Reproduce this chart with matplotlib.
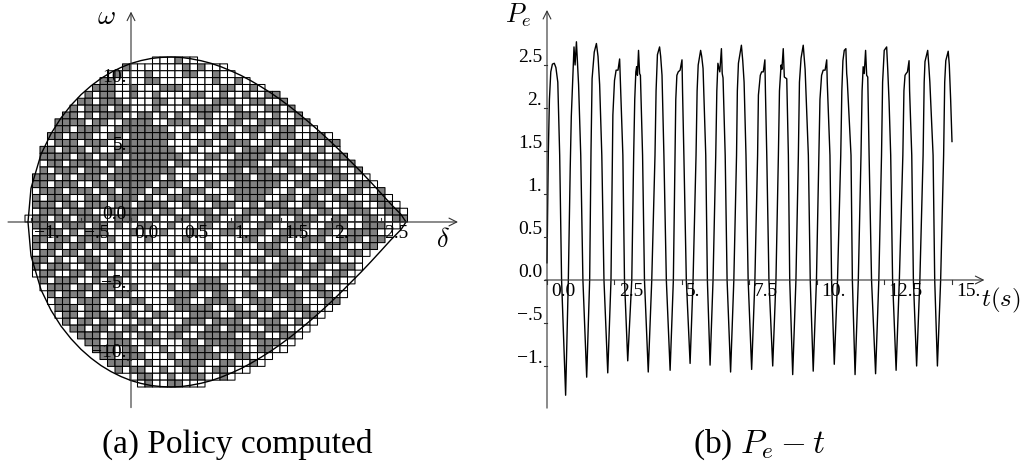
import matplotlib
matplotlib.use('Agg')
import matplotlib.pyplot as plt
from matplotlib.patches import Rectangle
from matplotlib.collections import PatchCollection

plt.rcParams['mathtext.fontset'] = 'cm'
plt.rcParams['font.family'] = ['Liberation Serif', 'DejaVu Serif']

# ---------------- (a) policy grid ----------------
delta0 = -1.06      # left edge of the grid
cell_w = 0.075
omega0 = 12.0       # top edge of the grid
cell_h = 0.5

# first / last column of every row (top row first)
row_left = [17, 13, 11, 10, 9, 8, 7, 6, 5, 4, 4, 3, 3, 2, 2, 2, 2, 1, 1, 1, 1, 1, 1, 0,
            1, 1, 1, 1, 1, 1, 1, 1, 2, 2, 3, 3, 4, 4, 5, 6, 7, 8, 9, 10, 11, 12, 14, 15]
row_right = [22, 26, 27, 29, 31, 33, 34, 35, 36, 37, 38, 40, 41, 41, 42, 43, 44, 45, 46, 47, 48, 49, 50, 50,
             49, 48, 47, 46, 45, 44, 44, 43, 43, 42, 42, 41, 40, 39, 38, 37, 36, 35, 34, 32, 31, 29, 27, 23]

# runs of grey cells in every row
gray_runs = [
    [(20, 20)],
    [(13, 13), (21, 21), (23, 23)],
    [(12, 12), (16, 16), (21, 22), (25, 25)],
    [(10, 11), (16, 17), (25, 25), (28, 28)],
    [(9, 11), (14, 14), (18, 20), (26, 27), (30, 30)],
    [(8, 8), (10, 11), (14, 14), (17, 17), (22, 23), (26, 26), (29, 29), (32, 33)],
    [(7, 8), (10, 12), (17, 18), (21, 21), (25, 27), (30, 31), (34, 34)],
    [(6, 6), (8, 10), (12, 13), (17, 17), (22, 25), (28, 28), (32, 33), (35, 35)],
    [(5, 6), (8, 8), (10, 12), (15, 16), (18, 18), (20, 20), (23, 24), (28, 30), (33, 33), (36, 36)],
    [(4, 7), (9, 10), (13, 16), (19, 21), (24, 24), (27, 28), (31, 33), (36, 37)],
    [(4, 5), (7, 9), (12, 18), (22, 23), (26, 26), (29, 31), (34, 35)],
    [(3, 4), (6, 8), (11, 12), (14, 19), (21, 21), (25, 27), (30, 30), (33, 35), (38, 39)],
    [(4, 6), (8, 10), (13, 18), (23, 24), (27, 29), (32, 33), (36, 37), (40, 41)],
    [(2, 3), (5, 7), (9, 9), (12, 19), (22, 22), (26, 27), (29, 32), (35, 36), (39, 39)],
    [(2, 5), (7, 8), (10, 12), (14, 20), (24, 25), (28, 31), (34, 34), (37, 38), (41, 42)],
    [(3, 4), (6, 9), (11, 11), (13, 18), (20, 21), (27, 30), (33, 35), (38, 40), (43, 43)],
    [(2, 2), (4, 6), (8, 10), (12, 19), (23, 24), (27, 28), (30, 32), (35, 36), (39, 41), (44, 44)],
    [(1, 3), (5, 5), (7, 9), (11, 17), (19, 19), (22, 22), (26, 29), (31, 34), (37, 38), (41, 42)],
    [(1, 2), (4, 6), (9, 10), (12, 16), (18, 20), (24, 25), (28, 33), (36, 37), (40, 41), (44, 45)],
    [(2, 4), (6, 8), (10, 11), (13, 15), (17, 18), (21, 23), (27, 32), (35, 35), (38, 40), (43, 44), (47, 47)],
    [(1, 1), (3, 5), (8, 9), (11, 14), (16, 16), (19, 21), (24, 25), (28, 31), (34, 35), (37, 38), (41, 42), (46, 47)],
    [(1, 3), (5, 6), (8, 10), (12, 13), (15, 18), (21, 22), (25, 27), (30, 30), (32, 34), (37, 39), (42, 44), (47, 48)],
    [(2, 4), (6, 8), (11, 11), (13, 16), (18, 19), (22, 24), (26, 26), (29, 31), (34, 36), (39, 40), (43, 45), (48, 49)],
    [(1, 2), (4, 5), (7, 9), (12, 14), (17, 17), (20, 21), (24, 25), (28, 29), (32, 33), (36, 38), (41, 42), (45, 46), (49, 50)],
    [(1, 3), (5, 7), (9, 10), (12, 12), (15, 16), (19, 19), (23, 24), (27, 28), (31, 32), (35, 37), (40, 42), (45, 47)],
    [(2, 4), (6, 6), (8, 10), (14, 14), (18, 18), (22, 22), (26, 27), (30, 31), (34, 36), (39, 40), (43, 46)],
    [(1, 2), (4, 5), (7, 9), (11, 11), (16, 16), (21, 21), (29, 30), (33, 34), (37, 39), (42, 44), (46, 47)],
    [(1, 1), (3, 4), (6, 7), (9, 10), (13, 13), (24, 24), (31, 33), (36, 37), (40, 42), (45, 46)],
    [(2, 3), (5, 6), (8, 8), (11, 12), (19, 19), (28, 28), (32, 34), (38, 40), (43, 44)],
    [(1, 2), (4, 4), (7, 9), (12, 12), (22, 22), (30, 31), (34, 36), (39, 41)],
    [(1, 1), (3, 5), (8, 9), (11, 11), (17, 17), (26, 26), (33, 36), (38, 39), (42, 43)],
    [(2, 3), (6, 7), (9, 10), (13, 13), (20, 21), (29, 29), (31, 34), (37, 38), (41, 42)],
    [(2, 2), (4, 6), (9, 9), (11, 12), (23, 25), (30, 33), (36, 37), (40, 41)],
    [(3, 5), (7, 8), (10, 11), (14, 14), (19, 19), (22, 26), (31, 35), (38, 39)],
    [(3, 3), (5, 7), (9, 10), (12, 13), (20, 22), (25, 26), (29, 30), (33, 36), (39, 40)],
    [(4, 5), (7, 9), (11, 11), (14, 15), (19, 21), (24, 27), (30, 32), (35, 36), (40, 41)],
    [(4, 6), (8, 9), (12, 13), (16, 16), (20, 24), (27, 28), (31, 32), (35, 37)],
    [(5, 6), (8, 10), (13, 14), (17, 18), (22, 25), (28, 30), (33, 34), (37, 38)],
    [(5, 5), (7, 8), (10, 11), (15, 16), (21, 23), (25, 28), (31, 33), (36, 36)],
    [(6, 7), (9, 10), (13, 14), (17, 17), (20, 21), (24, 25), (27, 29), (32, 34)],
    [(7, 9), (11, 12), (15, 16), (19, 20), (23, 27), (30, 31), (34, 35)],
    [(8, 9), (11, 13), (16, 17), (21, 22), (24, 28), (31, 33)],
    [(9, 11), (13, 14), (18, 18), (21, 24), (26, 28), (31, 32)],
    [(10, 11), (13, 15), (19, 19), (22, 25), (28, 29)],
    [(11, 13), (16, 16), (20, 23), (26, 27), (30, 30)],
    [(12, 12), (14, 15), (18, 18), (21, 22), (25, 26)],
    [(15, 16), (19, 19), (22, 23), (26, 26)],
    [(16, 16), (19, 20)],
]

# boundary of the stability region (upper half, lower half is its mirror)
delta_curve = [-1.03, -1.0, -0.9, -0.8, -0.7, -0.6, -0.5, -0.4, -0.3, -0.2, -0.1, 0.0,
               0.1, 0.2, 0.3, 0.4, 0.5, 0.6, 0.7, 0.8, 0.9, 1.0, 1.1, 1.2, 1.3, 1.4,
               1.5, 1.6, 1.7, 1.8, 1.9, 2.0, 2.1, 2.2, 2.3, 2.4, 2.5, 2.6, 2.7, 2.75]
omega_curve = [0.0, 2.46, 4.92, 6.42, 7.57, 8.49, 9.26, 9.90, 10.44, 10.88, 11.24, 11.53,
               11.74, 11.89, 11.97, 12.0, 11.97, 11.87, 11.73, 11.54, 11.29, 10.99, 10.66, 10.27, 9.84, 9.38,
               8.87, 8.33, 7.74, 7.13, 6.49, 5.82, 5.11, 4.38, 3.65, 2.88, 2.09, 1.29, 0.55, 0.0]

delta_ticks = [-1.0, -0.5, 0.0, 0.5, 1.0, 1.5, 2.0, 2.5]
delta_labels = ['\u22121.', '\u2212.5', '0.0', '0.5', '1.', '1.5', '2.', '2.5']
omega_ticks = [10, 5, 0, -5, -10]
omega_labels = ['10.', '5.', '0.0', '\u22125.', '\u221210.']

# ---------------- (b) electric power ----------------
t_vals = [0.00, 0.05, 0.09, 0.14, 0.20, 0.27, 0.33, 0.40, 0.47, 0.54, 0.69,
          0.79, 0.86, 0.90, 0.95, 1.00, 1.04, 1.09, 1.17, 1.25, 1.33, 1.47,
          1.58, 1.63, 1.67, 1.75, 1.83, 1.89, 1.95, 2.03, 2.11, 2.25,
          2.37, 2.44, 2.50, 2.56, 2.63, 2.69, 2.74, 2.81, 2.87, 2.99,
          3.14, 3.21, 3.25, 3.29, 3.32, 3.35, 3.39, 3.43, 3.46, 3.54, 3.61, 3.75,
          3.88, 4.00, 4.04, 4.09, 4.17, 4.21, 4.26, 4.33, 4.42, 4.56,
          4.68, 4.74, 4.77, 4.81, 4.86, 4.93, 5.00, 5.02, 5.07, 5.16, 5.30,
          5.41, 5.52, 5.56, 5.60, 5.69, 5.73, 5.78, 5.88, 5.94, 6.04,
          6.15, 6.25, 6.29, 6.33, 6.40, 6.46, 6.49, 6.52, 6.60, 6.67, 6.80,
          6.92, 7.02, 7.05, 7.09, 7.20, 7.25, 7.30, 7.37, 7.45, 7.58,
          7.70, 7.80, 7.83, 7.90, 7.95, 8.01, 8.07, 8.09, 8.14, 8.22, 8.36,
          8.48, 8.57, 8.61, 8.67, 8.70, 8.75, 8.79, 8.88, 8.94, 8.99, 9.10,
          9.22, 9.31, 9.35, 9.41, 9.49, 9.56, 9.68, 9.75, 9.86,
          9.98, 10.07, 10.11, 10.17, 10.23, 10.30, 10.36, 10.38, 10.48, 10.54, 10.64,
          10.76, 10.88, 10.92, 10.96, 11.01, 11.07, 11.10, 11.12, 11.26, 11.31, 11.41,
          11.53, 11.63, 11.67, 11.71, 11.75, 11.80, 11.84, 11.88, 11.93, 12.02, 12.17,
          12.29, 12.39, 12.43, 12.49, 12.58, 12.62, 12.67, 12.73, 12.80, 12.93,
          13.05, 13.18, 13.22, 13.26, 13.30, 13.35, 13.41, 13.43, 13.51, 13.57, 13.69,
          13.81, 13.93, 13.97, 14.00, 14.10, 14.14, 14.18, 14.30, 14.36, 14.46,
          14.58, 14.69, 14.73, 14.77, 14.86, 14.90, 14.95, 15.00]
pe_vals = [0.20, 1.50, 2.10, 2.42, 2.51, 2.52, 2.47, 2.30, 1.45, 0.00, -1.34,
           0.00, 1.30, 1.90, 2.30, 2.71, 2.50, 2.77, 2.27, 1.45, 0.00, -1.13,
           0.00, 1.50, 2.34, 2.65, 2.75, 2.60, 2.27, 1.45, 0.00, -1.08,
           0.00, 1.92, 2.32, 2.44, 2.44, 2.57, 2.10, 1.45, 0.00, -0.94,
           0.00, 1.45, 2.10, 2.42, 2.48, 2.38, 2.67, 2.40, 2.38, 1.45, 0.00, -1.07,
           0.00, 1.45, 2.20, 2.62, 2.71, 2.60, 2.38, 1.45, 0.00, -1.05,
           0.00, 1.45, 2.10, 2.38, 2.42, 2.44, 2.56, 2.20, 1.45, 0.00, -0.97,
           0.00, 1.45, 2.20, 2.50, 2.67, 2.60, 2.46, 1.45, 0.00, -0.99,
           0.00, 1.45, 2.20, 2.52, 2.42, 2.69, 2.40, 2.35, 1.45, 0.00, -1.07,
           0.00, 1.45, 2.20, 2.52, 2.73, 2.55, 2.30, 1.45, 0.00, -1.04,
           0.00, 1.45, 2.15, 2.38, 2.42, 2.42, 2.56, 2.20, 1.45, 0.00, -1.00,
           0.00, 1.45, 2.20, 2.50, 2.45, 2.69, 2.36, 2.34, 1.45, 0.00, -1.10,
           0.00, 1.45, 2.30, 2.58, 2.73, 2.45, 1.45, 0.00, -1.06,
           0.00, 1.45, 2.10, 2.38, 2.44, 2.44, 2.56, 2.30, 1.45, 0.00, -0.98,
           0.00, 1.45, 2.20, 2.55, 2.67, 2.69, 2.40, 2.33, 1.45, 0.00, -1.10,
           0.00, 1.45, 2.20, 2.48, 2.40, 2.67, 2.38, 2.36, 1.45, 0.00, -1.09,
           0.00, 1.45, 2.30, 2.67, 2.71, 2.45, 2.07, 1.45, 0.00, -1.05,
           0.00, 1.45, 2.20, 2.38, 2.40, 2.42, 2.55, 2.20, 1.45, 0.00, -1.00,
           0.00, 1.45, 2.30, 2.54, 2.67, 2.50, 2.30, 1.45, 0.00, -1.00,
           0.00, 1.45, 2.30, 2.55, 2.66, 2.50, 2.10, 1.61]

t_ticks = [0.0, 2.5, 5.0, 7.5, 10.0, 12.5, 15.0]
t_labels = ['0.0', '2.5', '5.', '7.5', '10.', '12.5', '15.']
pe_ticks = [2.5, 2.0, 1.5, 1.0, 0.5, 0.0, -0.5, -1.0]
pe_labels = ['2.5', '2.', '1.5', '1.', '0.5', '0.0', '\u2212.5', '\u22121.']

W, H = 1023, 463
fig = plt.figure(figsize=(W / 100, H / 100), dpi=100)

# ---- left panel
ax1 = fig.add_axes([0, 0, 500 / W, 1])
ax1.set_xlim(-1.31, 3.69)
ax1.set_ylim(-17.527, 16.145)
ax1.axis('off')
px_x1 = 0.01          # one pixel in delta units
px_y1 = 1 / 13.75     # one pixel in omega units

cells = []
colors = []
for r in range(len(row_left)):
    y_bot = omega0 - cell_h * (r + 1)
    grey = set()
    for a, b in gray_runs[r]:
        grey.update(range(a, b + 1))
    for c in range(row_left[r], row_right[r] + 1):
        cells.append(Rectangle((delta0 + cell_w * c, y_bot), cell_w, cell_h))
        colors.append('#808080' if c in grey else 'white')
grid = PatchCollection(cells, facecolors=colors, edgecolors='black', linewidths=0.75,
                       antialiased=True)
grid.set_snap(False)
ax1.add_collection(grid)

xs = delta_curve + delta_curve[::-1]
ys = omega_curve + [-w for w in omega_curve[::-1]]
ax1.plot(xs, ys, color='black', lw=1.0)

arrow = dict(arrowstyle='->', lw=0.8, color='#333333', shrinkA=0, shrinkB=0, mutation_scale=14)
ax1.annotate('', xy=(3.27, 0), xytext=(-1.23, 0), arrowprops=arrow)
ax1.annotate('', xy=(0, 15.3), xytext=(0, -13.5), arrowprops=arrow)

for d, lab in zip(delta_ticks, delta_labels):
    ax1.plot([d, d], [0, 4 * px_y1], color='#333333', lw=0.8)
    ax1.annotate(lab, (d, 0), xytext=(2.5, -2.5), textcoords='offset points',
                 ha='left', va='top', fontsize=14)
for w, lab in zip(omega_ticks, omega_labels):
    ax1.plot([-4 * px_x1, 0], [w, w], color='#333333', lw=0.8)
    ax1.annotate(lab, (0, w), xytext=(-3, 2), textcoords='offset points',
                 ha='right', va='baseline', fontsize=14)

ax1.text(-0.25, 14.9, r'$\omega$', fontsize=20, ha='center', va='center')
ax1.text(3.12, -1.3, r'$\delta$', fontsize=19, ha='center', va='center')

# ---- right panel
ax2 = fig.add_axes([500 / W, 0, 523 / W, 1])
ax2.set_xlim(-1.7407, 17.63)
ax2.set_ylim(-2.128, 3.2558)
ax2.axis('off')
px_x2 = 1 / 27
px_y2 = 1 / 86

ax2.plot(t_vals, pe_vals, color='black', lw=1.0)
ax2.annotate('', xy=(16.2, 0), xytext=(-0.07, 0), arrowprops=arrow)
ax2.annotate('', xy=(0, 3.14), xytext=(0, -1.49), arrowprops=arrow)

for t, lab in zip(t_ticks, t_labels):
    ax2.plot([t, t], [0, -4 * px_y2], color='#333333', lw=0.8)
    ax2.annotate(lab, (t, 0), xytext=(3, -2.5), textcoords='offset points',
                 ha='left', va='top', fontsize=14)
for p, lab in zip(pe_ticks, pe_labels):
    ax2.plot([-3 * px_x2, 0], [p, p], color='#333333', lw=0.8)
    ax2.annotate(lab, (0, p), xytext=(-3.5, 2), textcoords='offset points',
                 ha='right', va='baseline', fontsize=14)

ax2.text(-1.04, 3.08, r'$P_e$', fontsize=19, ha='center', va='center')
ax2.text(16.82, -0.24, r'$t(s)$', fontsize=18, ha='center', va='center')

# ---- captions
fig.text(237 / W, 1 - 453 / H, '(a) Policy computed', fontsize=24, ha='center', va='baseline')
fig.text(759 / W, 1 - 453 / H, r'(b) $P_e - t$', fontsize=24, ha='center', va='baseline')

fig.savefig('out.png', dpi=100)
